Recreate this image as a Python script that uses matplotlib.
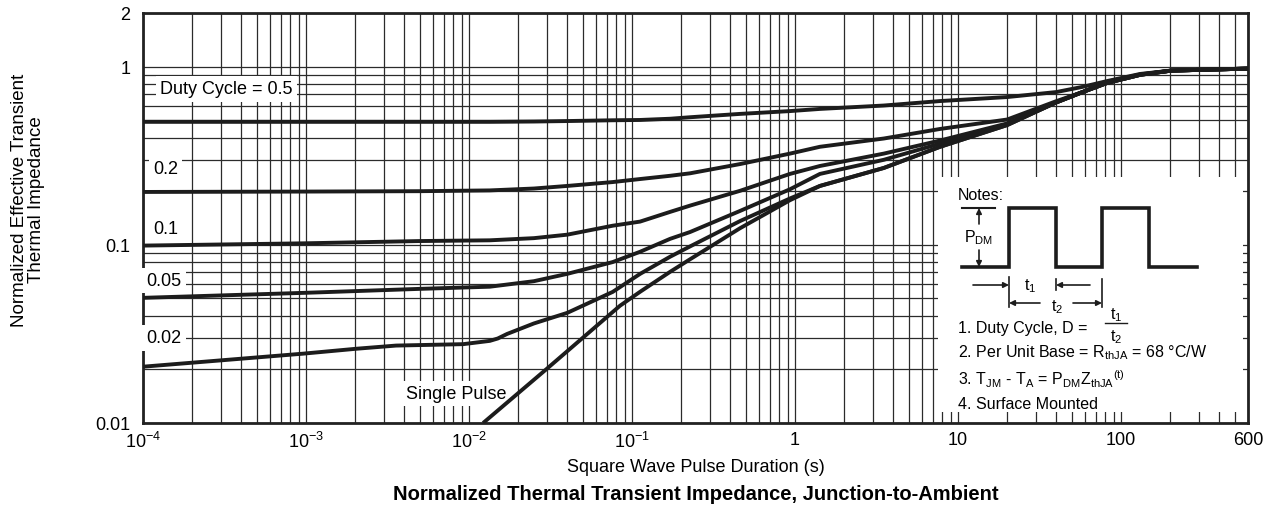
import numpy as np
import matplotlib
matplotlib.use("Agg")
import matplotlib.pyplot as plt
from matplotlib.ticker import FixedLocator, NullFormatter

plt.rcParams['font.family'] = ['Liberation Sans', 'DejaVu Sans']
plt.rcParams['mathtext.fontset'] = 'custom'
plt.rcParams['mathtext.rm'] = 'Liberation Sans'
plt.rcParams['mathtext.it'] = 'Liberation Sans'
plt.rcParams['mathtext.bf'] = 'Liberation Sans:bold'

# pulse duration (s)
t = [1e-4, 1e-3, 5e-3, 0.0134, 0.025, 0.04, 0.076, 0.112, 0.171, 0.227, 0.46, 0.93, 1.42, 3.5, 7.76,
     20, 40, 58, 82, 131, 203, 600]
z_d50 = [0.49, 0.49, 0.49, 0.49, 0.492, 0.495, 0.50, 0.502, 0.51, 0.52, 0.543, 0.563, 0.579, 0.605, 0.641,
         0.675, 0.72, 0.77, 0.83, 0.91, 0.95, 0.975]
z_d20 = [0.198, 0.199, 0.200, 0.202, 0.207, 0.214, 0.225, 0.234, 0.244, 0.252, 0.284, 0.325, 0.355, 0.395, 0.447,
         0.505, 0.64, 0.72, 0.82, 0.905, 0.95, 0.975]
z_d10 = [0.099, 0.102, 0.105, 0.106, 0.109, 0.114, 0.128, 0.135, 0.153, 0.166, 0.201, 0.25, 0.277, 0.325, 0.385,
         0.48, 0.63, 0.72, 0.81, 0.90, 0.95, 0.975]
z_d05 = [0.0504, 0.0538, 0.0566, 0.0582, 0.0625, 0.0687, 0.080, 0.0914, 0.108, 0.118, 0.155, 0.205, 0.25, 0.30, 0.37,
         0.475, 0.63, 0.72, 0.81, 0.90, 0.95, 0.975]

t_d02 = [1e-4, 9.6e-4, 2.03e-3, 3.57e-3, 9.2e-3, 0.0134, 0.015, 0.0171, 0.025, 0.04, 0.076, 0.112, 0.171, 0.227,
         0.46, 0.93, 1.42, 3.5, 7.76, 20, 40, 58, 82, 131, 203, 600]
z_d02 = [0.0207, 0.0245, 0.0261, 0.0272, 0.0277, 0.0289, 0.0298, 0.0316, 0.0362, 0.0415, 0.0544, 0.0687, 0.0857,
         0.098, 0.136, 0.182, 0.214, 0.27, 0.355, 0.47, 0.63, 0.72, 0.81, 0.90, 0.95, 0.975]

t_single = [0.0122, 0.0301, 0.0843, 0.112, 0.171, 0.227, 0.46, 0.93, 1.42, 3.5, 7.76, 20, 40, 58, 82, 131, 203, 600]
z_single = [0.01, 0.0202, 0.0455, 0.0545, 0.0705, 0.083, 0.124, 0.178, 0.214, 0.27, 0.355, 0.47, 0.63, 0.72,
            0.81, 0.90, 0.95, 0.975]

x_ticks = [1e-4, 1e-3, 1e-2, 1e-1, 1, 10, 100, 600]
x_labels = ['$\\mathregular{10^{-4}}$', '$\\mathregular{10^{-3}}$', '$\\mathregular{10^{-2}}$',
            '$\\mathregular{10^{-1}}$', '1', '10', '100', '600']
y_ticks = [0.01, 0.1, 1, 2]
y_labels = ['0.01', '0.1', '1', '2']

# curve labels: (text, x, y)
curve_labels = [('Duty Cycle = 0.5', 1.27e-4, 0.75),
                ('0.2', 1.15e-4, 0.267),
                ('0.1', 1.15e-4, 0.123),
                ('0.05', 1.05e-4, 0.0628),
                ('0.02', 1.05e-4, 0.030),
                ('Single Pulse', 4.1e-3, 0.0146)]

fig = plt.figure(figsize=(12.66, 5.10), dpi=100)
ax = fig.add_axes([143/1266, 1-424/510, (1248-143)/1266, (424-14)/510])
ax.set_xscale('log')
ax.set_yscale('log')
ax.set_xlim(1e-4, 600)
ax.set_ylim(0.01, 2)

xminor = [m * 10.0**e for e in range(-4, 3) for m in range(2, 10) if m * 10.0**e < 600]
yminor = [m * 10.0**e for e in range(-2, 0) for m in range(2, 10)]
ax.xaxis.set_major_locator(FixedLocator(x_ticks))
ax.xaxis.set_minor_locator(FixedLocator(xminor))
ax.yaxis.set_major_locator(FixedLocator(y_ticks))
ax.yaxis.set_minor_locator(FixedLocator(yminor))
ax.set_xticklabels(x_labels)
ax.set_yticklabels(y_labels)
ax.xaxis.set_minor_formatter(NullFormatter())
ax.yaxis.set_minor_formatter(NullFormatter())
ax.tick_params(which='both', length=0, labelsize=13)
ax.tick_params(axis='x', pad=6)
ax.tick_params(axis='y', pad=9)
ax.grid(True, which='both', color='#2b2b2b', lw=0.9)
ax.set_axisbelow(True)
for s in ax.spines.values():
    s.set_linewidth(2)
    s.set_color('#222222')

for xs, zs in [(t, z_d50), (t, z_d20), (t, z_d10), (t, z_d05), (t_d02, z_d02), (t_single, z_single)]:
    ax.plot(xs, zs, color='#1c1c1c', lw=2.8, solid_capstyle='butt', solid_joinstyle='round', zorder=4)

for txt, x, y in curve_labels:
    ax.text(x, y, txt, fontsize=13, ha='left', va='center', zorder=3,
            bbox=dict(facecolor='white', edgecolor='none', pad=3))

cx = ax.get_position().x0 + ax.get_position().width / 2
fig.text(cx, 1-468/510, 'Square Wave Pulse Duration (s)', ha='center', va='center', fontsize=13)
fig.text(28/1266, 1-200/510, 'Normalized Effective Transient\nThermal Impedance', rotation=90,
         ha='center', va='center', fontsize=13.5, multialignment='center', linespacing=1.05)
fig.text(cx, 1-495/510, 'Normalized Thermal Transient Impedance, Junction-to-Ambient',
         ha='center', va='center', fontsize=14.5, fontweight='bold')

# notes box, drawn in its own pixel-like coordinates
nb = fig.add_axes([938/1266, 1-413/510, (1243-938)/1266, (413-178)/510], zorder=5)
nb.set_xlim(0, 305)
nb.set_ylim(235, 0)
nb.axis('off')
nb.add_patch(plt.Rectangle((0, 0), 305, 235, facecolor='white', edgecolor='none'))
k = '#1c1c1c'
fs = 11.5
nb.plot([24, 71, 71, 118, 118, 164, 164, 211, 211, 259], [90, 90, 31, 31, 90, 90, 31, 31, 90, 90],
        color=k, lw=2.6, solid_joinstyle='miter')
nb.plot([24, 57], [31, 31], color=k, lw=1.5)
arr = dict(arrowstyle='-|>', lw=1.2, color=k, mutation_scale=8, shrinkA=0, shrinkB=0)
nb.annotate('', xy=(41, 31), xytext=(41, 47), arrowprops=arr)
nb.annotate('', xy=(41, 90), xytext=(41, 73), arrowprops=arr)
nb.text(41, 60, '$\\mathregular{P_{DM}}$', fontsize=fs, ha='center', va='center')
nb.text(20, 17, 'Notes:', fontsize=fs, ha='left', va='center')
nb.annotate('', xy=(71, 108), xytext=(35, 108), arrowprops=arr)
nb.annotate('', xy=(118, 108), xytext=(152, 108), arrowprops=arr)
nb.plot([118, 118], [102, 113], color=k, lw=1.2)
nb.plot([71, 71], [100, 130], color=k, lw=1.2)
nb.plot([164, 164], [102, 130], color=k, lw=1.2)
nb.text(92, 108, '$\\mathregular{t_1}$', fontsize=fs, ha='center', va='center')
nb.annotate('', xy=(71, 126), xytext=(102, 126), arrowprops=arr)
nb.annotate('', xy=(164, 126), xytext=(135, 126), arrowprops=arr)
nb.text(119, 129, '$\\mathregular{t_2}$', fontsize=fs, ha='center', va='center')
nb.text(20, 150, '1. Duty Cycle, D = ', fontsize=fs, ha='left', va='center')
nb.text(178, 137, '$\\mathregular{t_1}$', fontsize=fs, ha='center', va='center')
nb.plot([167, 189], [146, 146], color=k, lw=1.0)
nb.text(178, 159, '$\\mathregular{t_2}$', fontsize=fs, ha='center', va='center')
nb.text(20, 175, '2. Per Unit Base = $\\mathregular{R_{thJA}}$ = 68 °C/W', fontsize=fs, ha='left', va='center')
nb.text(20, 201, '3. $\\mathregular{T_{JM}}$ - $\\mathregular{T_A}$ = $\\mathregular{P_{DM}Z_{thJA}{}^{(t)}}$',
        fontsize=fs, ha='left', va='center')
nb.text(20, 227, '4. Surface Mounted', fontsize=fs, ha='left', va='center')

fig.savefig('out.png', dpi=100)
